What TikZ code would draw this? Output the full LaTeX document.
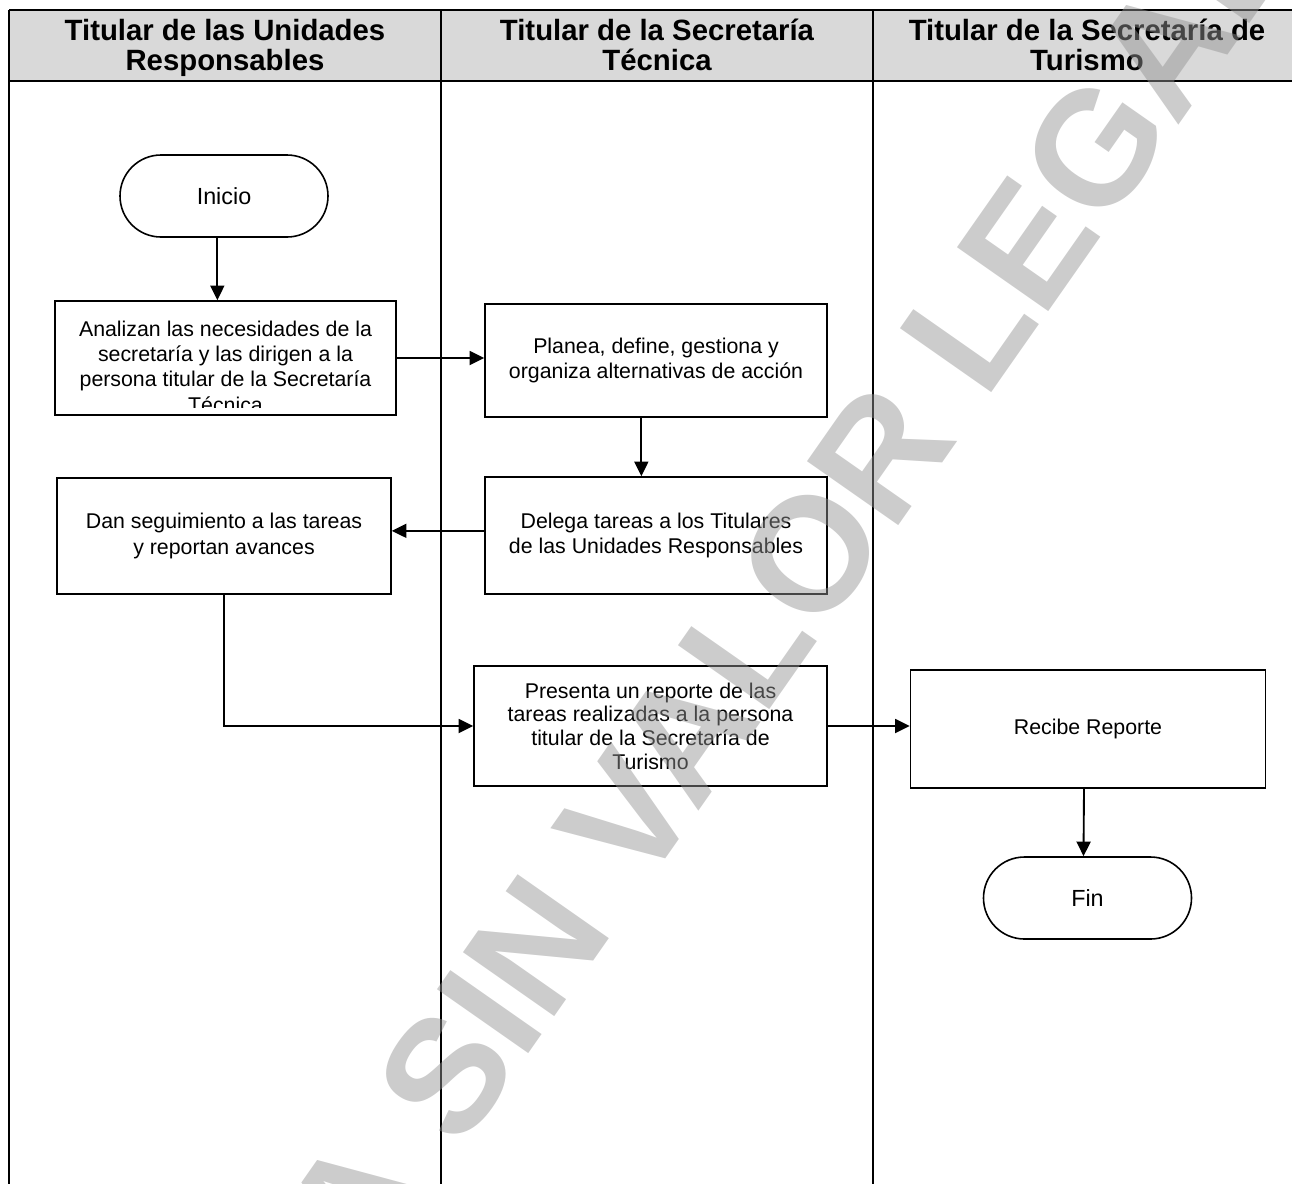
\documentclass[tikz,border=0pt]{standalone}
\usepackage{fontspec}
\setmainfont{Liberation Sans}
\usetikzlibrary{arrows.meta,positioning,shapes.misc}
\definecolor{hdrgray}{RGB}{217,217,217}
\definecolor{wmgray}{RGB}{147,147,147}
\tikzset{
  lane/.style={line width=1.6pt},
  hdr/.style={font=\fontsize{22}{22.5}\selectfont\bfseries, align=center},
  proc/.style={draw, line width=1.2pt, align=center, inner sep=0pt,
    font=\fontsize{16}{18.8}\selectfont},
  term/.style={draw, line width=1.2pt, rounded rectangle, inner sep=0pt,
    minimum width=156pt, minimum height=61.5pt, font=\fontsize{17.5}{20}\selectfont},
  arr/.style={-{Triangle[length=11pt,width=10.5pt]}, line width=1.4pt},
  marca/.style={font=\fontsize{121.5}{121.5}\selectfont\bfseries, text=wmgray, opacity=0.475},
}

\begin{document}
\begin{tikzpicture}[x=0.75pt,y=-0.75pt]
\useasboundingbox (0,0) rectangle (1292,1183);
% carriles
\fill[hdrgray] (9,10) rectangle (1300,81);
\draw[lane] (9,10) -- (1300,10);
\draw[lane] (9,81) -- (1300,81);
\foreach \x in {9,441,873} \draw[lane] (\x,10) -- (\x,1190);
\node[hdr] (h1) at (225,48) {Titular de las Unidades\\Responsables};
\node[hdr] (h2) at (657,45) {Titular de la Secretaría\\Técnica};
\node[hdr] (h3) at (1087,45) {Titular de la Secretaría de\\Turismo};

% pasos
\node[term] (ini) at (224,196) {Inicio};
\node[proc, minimum width=255.75pt, minimum height=85.5pt] (anl) at (225.5,358) {};
\begin{scope}
  \clip (56,302) rectangle (395,407);
  \node[align=center, inner sep=0pt, anchor=north, font=\fontsize{16}{19}\selectfont] (anl-t) at (225.5,320.5)
    {Analizan las necesidades de la\\secretaría y las dirigen a la\\persona titular de la Secretaría\\Técnica};
\end{scope}
\node[proc, minimum width=256.5pt, minimum height=84.75pt] (pla) at (656,360.5)
  {Planea, define, gestiona y\\organiza alternativas de acción};
\node[proc, minimum width=256.5pt, minimum height=87.75pt] (del) at (656,535.5)
  {Delega tareas a los Titulares\\de las Unidades Responsables};
\node[proc, minimum width=250.5pt, minimum height=87pt] (seg) at (224,536)
  {Dan seguimiento a las tareas\\y reportan avances};
\node[proc, minimum width=264.75pt, minimum height=90pt, font=\fontsize{16}{17.8}\selectfont] (pre) at (650.5,726)
  {Presenta un reporte de las\\tareas realizadas a la persona\\titular de la Secretaría de\\Turismo};
\node[proc, minimum width=266.25pt, minimum height=88.5pt] (rec) at (1088,729) {Recibe Reporte};
\node[term] (fin) at (1087.5,898) {Fin};

% flechas
\draw[arr] ([xshift=-5pt]ini.south) -- ([xshift=-5pt]ini.south |- anl.north);
\draw[arr] (anl.east) -- (anl.east -| pla.west);
\draw[arr] ([xshift=-11pt]pla.south) -- ([xshift=-11pt]del.north);
\draw[arr] ([yshift=3.5pt]del.west) -- ([yshift=3.5pt]del.west -| seg.east);
\draw[arr] (seg.south) |- (pre.west);
\draw[arr] (pre.east) -- (pre.east -| rec.west);
\draw[arr] ([xshift=-3pt]rec.south) -- ([xshift=-3pt]fin.north);

% marca de agua
\begin{scope}
  \clip (0,0) rectangle (1292,1183);
  \node[marca, rotate=55] (wm) at (675,748) {COPIA SIN VALOR LEGAL};
\end{scope}
\end{tikzpicture}
\end{document}
